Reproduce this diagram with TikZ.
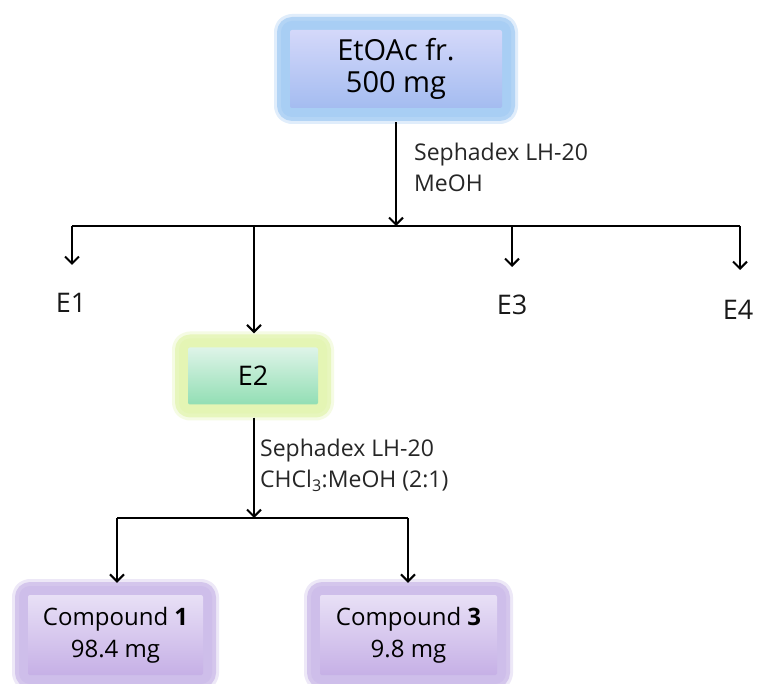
\documentclass[tikz,border=0pt]{standalone}
\usepackage{fontspec}
\setmainfont{Open Sans}
\usetikzlibrary{arrows.meta}
\definecolor{bglow}{RGB}{168,206,244}
\definecolor{btop}{RGB}{212,216,250}
\definecolor{bbot}{RGB}{164,188,240}
\definecolor{gglow}{RGB}{228,245,180}
\definecolor{gtop}{RGB}{222,244,232}
\definecolor{gbot}{RGB}{146,222,180}
\definecolor{pglow}{RGB}{206,190,234}
\definecolor{ptop}{RGB}{232,224,246}
\definecolor{pbot}{RGB}{198,176,230}
\tikzset{
  conn/.style={line width=2pt, black},
  arr/.style={conn, -{Straight Barb[length=7pt,width=14pt,line width=2pt]}},
  glowbox/.style={rectangle, inner sep=0pt, anchor=center, rounded corners=2pt,
    preaction={draw=#1, draw opacity=0.35, line width=32pt, line join=round},
    preaction={draw=#1, draw opacity=0.8, line width=26pt, line join=round},
    preaction={draw=#1, line width=18pt, line join=round}},
  bluebox/.style={glowbox=bglow, top color=btop, bottom color=bbot},
  greenbox/.style={glowbox=gglow, top color=gtop, bottom color=gbot},
  purplebox/.style={glowbox=pglow, top color=ptop, bottom color=pbot},
  lbl/.style={font=\fontsize{27}{30}\selectfont, inner sep=0pt, text=black!90},
  cond/.style={font=\fontsize{23}{31}\selectfont, align=left, inner sep=0pt, anchor=north west, text=black!85},
}
\begin{document}
\begin{tikzpicture}[x=1pt,y=-1pt]
\useasboundingbox[fill=white] (0,0) rectangle (758,684);
% boxes
\node[bluebox, minimum width=212pt, minimum height=78pt, align=center, font=\fontsize{29}{32}\selectfont] (top) at (396,69) {EtOAc fr.\\500 mg};
\node[greenbox, minimum width=130pt, minimum height=57pt, font=\fontsize{27}{30}\selectfont] (e2) at (253,376) {E2};
\node[purplebox, minimum width=175pt, minimum height=80pt, align=center, font=\fontsize{24}{32}\selectfont] (cp1) at (115.5,635) {Compound \textbf{1}\\98.4 mg};
\node[purplebox, minimum width=177pt, minimum height=80pt, align=center, font=\fontsize{24}{32}\selectfont] (cp3) at (408.5,635) {Compound \textbf{3}\\9.8 mg};
% labels
\node[lbl] (e1) at (71,303) {E1};
\node[lbl] (e3) at (512,305) {E3};
\node[lbl] (e4) at (738,310) {E4};
\node[cond] (c1) at (414,143) {Sephadex LH-20\\MeOH};
\node[cond] (c2) at (260,439) {Sephadex LH-20\\CHCl\textsubscript{3}:MeOH (2:1)};
% junctions
\coordinate (j1) at (396,226);
\coordinate (h1) at (72,226);
\coordinate (h2) at (254,226);
\coordinate (h3) at (512,226);
\coordinate (h4) at (740,226);
\coordinate (j2) at (254,518);
\coordinate (k1) at (117,518);
\coordinate (k2) at (408,518);
% connectors
\draw[arr, shorten <=14pt] (top.south) -- (j1);
\draw[conn] (h1) -- (h4);
\draw[arr] (h1) -- (72,265);
\draw[arr, shorten >=14pt] (h2) -- (h2 |- e2.north);
\draw[arr] (h3) -- (512,267);
\draw[arr] (h4) -- (740,270);
\draw[arr, shorten <=13pt] (e2.south -| j2) -- (j2);
\draw[conn] (k1) -- (k2);
\draw[arr, shorten >=12pt] (k1) -- (k1 |- cp1.north);
\draw[arr, shorten >=12pt] (k2) -- (k2 |- cp3.north);
\end{tikzpicture}
\end{document}
